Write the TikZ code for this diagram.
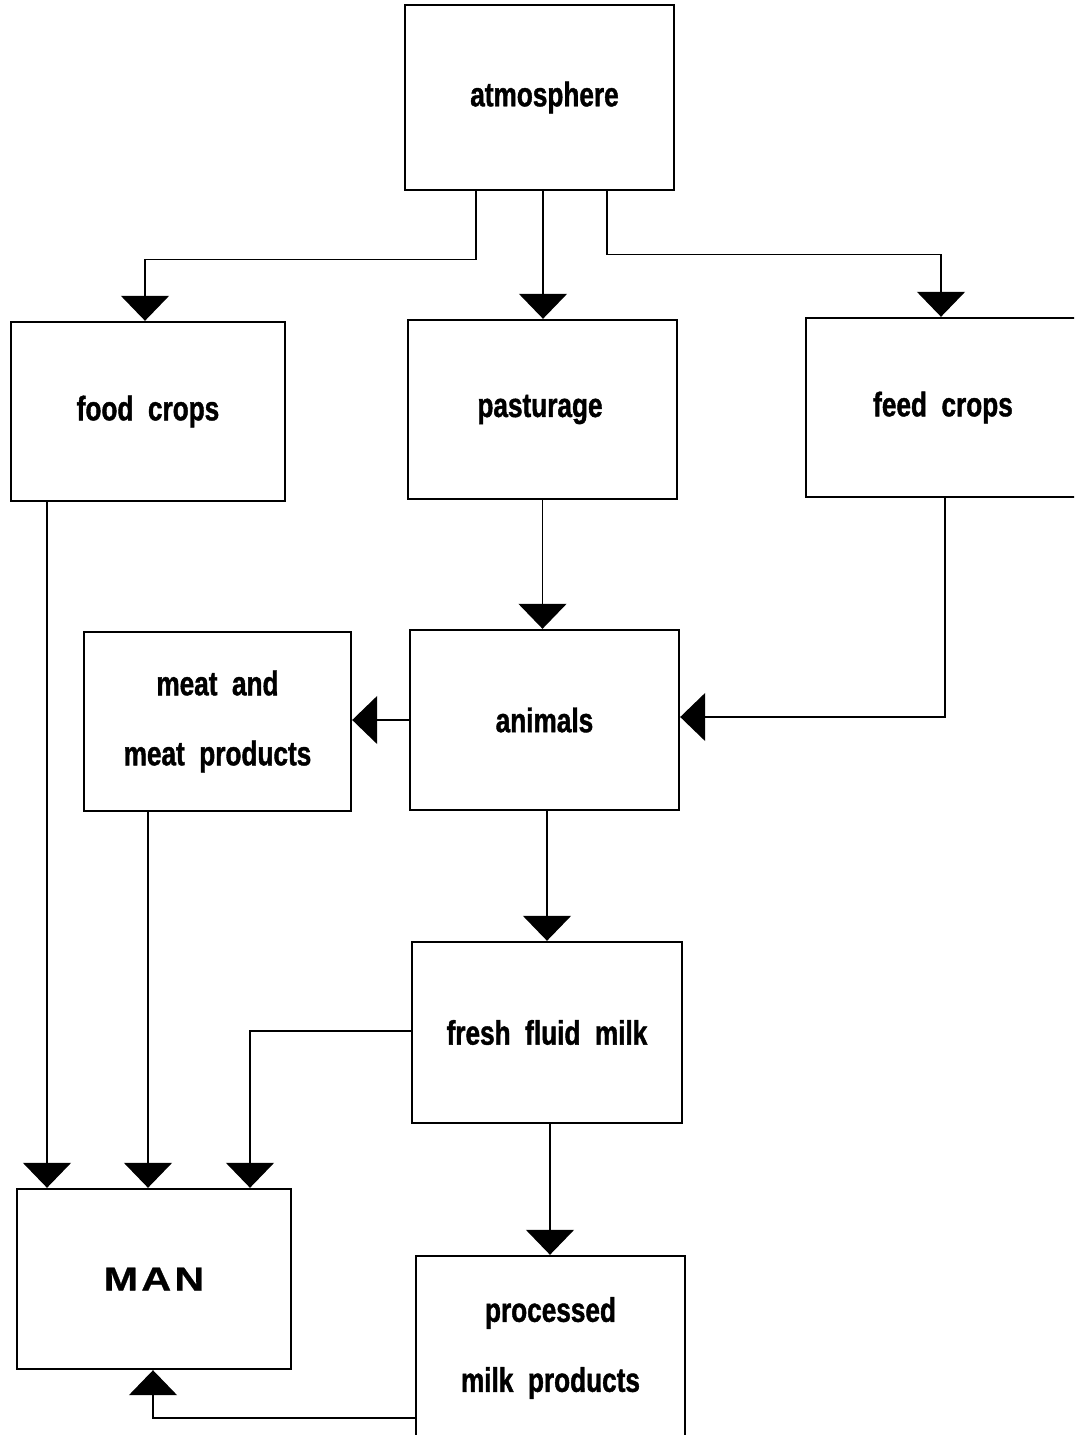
\documentclass[tikz,border=0pt]{standalone}
\usepackage{fontspec}
\setmainfont{Liberation Sans}
\newfontfamily\lab{Liberation Sans}[FakeStretch=0.77,WordSpace=2.0,FakeBold=1.2]
\newfontfamily\manfont{Liberation Sans}[FakeStretch=1.25,LetterSpace=10,FakeBold=0.8]
\usetikzlibrary{arrows.meta}
\tikzset{
  box/.style={draw, line width=2.4pt, inner sep=0pt, align=center,
    font=\lab\bfseries\fontsize{34}{70}\selectfont},
  conn/.style={line width=1.4pt, -{Triangle[width=48pt,length=25pt]}},
}
\begin{document}
\begin{tikzpicture}[x=1pt,y=-1pt]
\useasboundingbox (0,0) rectangle (1074,1435);
\clip (0,0) rectangle (1074,1435);
\node[box, minimum width=269pt, minimum height=185pt] (atm) at (539.5,97.5) {\hspace*{10pt}atmosphere};
\node[box, minimum width=274pt, minimum height=179pt] (food) at (148,411.5) {food crops};
\node[box, minimum width=269pt, minimum height=179pt] (past) at (542.5,409.5) {\hspace*{-5pt}pasturage};
\node[box, minimum width=274pt, minimum height=179pt] (feed) at (943,407.5) {feed crops};
\node[box, minimum width=267pt, minimum height=179pt] (meat) at (217.5,721.5) {meat and\\meat products};
\node[box, minimum width=269pt, minimum height=180pt] (anim) at (544.5,720) {animals};
\node[box, minimum width=270pt, minimum height=181pt] (milk) at (547,1032.5) {fresh fluid milk};
\node[box, minimum width=274pt, minimum height=180pt, font=\manfont\bfseries\fontsize{33}{40}\selectfont] (man) at (154,1279) {MAN};
\node[box, minimum width=269pt, minimum height=184pt] (proc) at (550.5,1348) {processed\\milk products};
\coordinate (procl) at (416,1418);
% connectors
\draw[conn] ([xshift=-63.5pt]atm.south) -- ++(0,68) -| ([xshift=-3pt]food.north);
\draw[conn] ([xshift=3.5pt]atm.south) -- ([xshift=3.5pt]atm.south |- past.north);
\draw[conn] ([xshift=67.5pt]atm.south) -- ++(0,63) -| ([xshift=-2pt]feed.north);
\draw[conn] (past.south) -- (past.south |- anim.north);
\draw[conn] ([xshift=2pt]feed.south) |- ([yshift=3pt]anim.east);
\draw[conn] (anim.west) -- (meat.east |- anim.west);
\draw[conn] ([xshift=2.5pt]anim.south) -- ([xshift=2.5pt]anim.south |- milk.north);
\draw[conn] ([xshift=-101pt]food.south) -- ([xshift=-107pt]man.north);
\draw[conn] ([xshift=-69.5pt]meat.south) -- ([xshift=-6pt]man.north);
\draw[conn] ([yshift=1.5pt]milk.west) -| ([xshift=96pt]man.north);
\draw[conn] ([xshift=3pt]milk.south) -- ([xshift=3pt]milk.south |- proc.north);
\draw[conn] (procl) -| ([xshift=-1pt]man.south);
\end{tikzpicture}
\end{document}
